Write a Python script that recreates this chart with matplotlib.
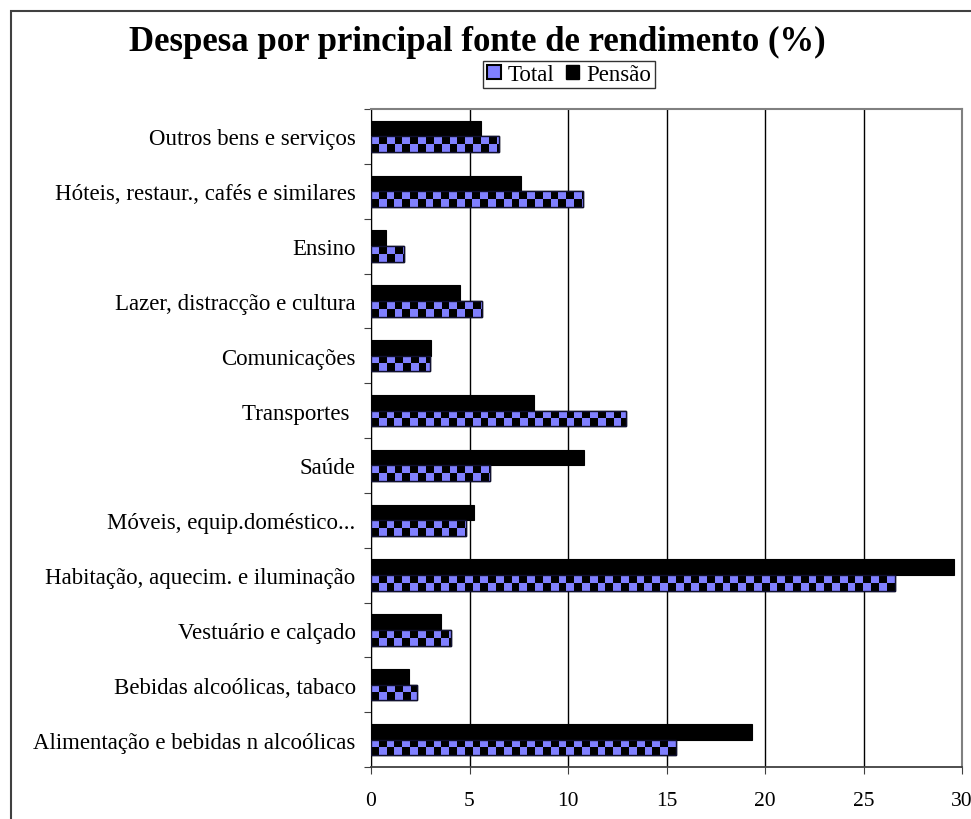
import numpy as np
import matplotlib
matplotlib.use("Agg")
import matplotlib.pyplot as plt
from matplotlib.colors import ListedColormap
from matplotlib.patches import Rectangle, Patch

# categories listed bottom -> top
categories = [
    "Alimentação e bebidas n alcoólicas",
    "Bebidas alcoólicas, tabaco",
    "Vestuário e calçado",
    "Habitação, aquecim. e iluminação",
    "Móveis, equip.doméstico...",
    "Saúde",
    "Transportes ",
    "Comunicações",
    "Lazer, distracção e cultura",
    "Ensino",
    "Hóteis, restaur., cafés e similares",
    "Outros bens e serviços",
]
total = [15.5, 2.35, 4.05, 26.6, 4.8, 6.05, 12.95, 3.0, 5.65, 1.7, 10.75, 6.5]
pensao = [19.35, 1.95, 3.55, 29.6, 5.25, 10.8, 8.25, 3.05, 4.5, 0.75, 7.6, 5.6]
xticks = [0, 5, 10, 15, 20, 25, 30]

BLUE = "#8080FF"
plt.rcParams["font.family"] = ["Liberation Serif", "DejaVu Serif"]

fig = plt.figure(figsize=(9.71, 8.2), dpi=100)
ax = fig.add_axes([371 / 971, 1 - 768 / 820, (962 - 371) / 971, (768 - 110) / 820])

y = np.arange(len(categories))
h = 0.285
ax.set_axisbelow(True)

ax.barh(y + h / 2, pensao, height=h, color="black", edgecolor="black", lw=0.8, zorder=3)
bars = ax.barh(y - h / 2, total, height=h, color="black", edgecolor="black", lw=1.0, zorder=3)

# checkerboard fill for the Total bars
cmap = ListedColormap(["black", BLUE])
sq = 7.8 / 19.7  # square width in data units
for b, v in zip(bars, total):
    ncol = int(np.ceil(v / sq)) + 1
    arr = np.zeros((2, ncol))
    arr[0, ::2] = 1
    arr[1, 1::2] = 1
    y0 = b.get_y()
    im = ax.imshow(arr, cmap=cmap, vmin=0, vmax=1, aspect="auto", interpolation="nearest",
                   extent=[0, ncol * sq, y0, y0 + h], zorder=3.5)
    im.set_clip_path(b)
    ax.add_patch(Rectangle((0, y0), v, h, fill=False, edgecolor="#101030", lw=1.0, zorder=4))

ax.set_xlim(0, 30)
ax.set_ylim(-0.5, len(categories) - 0.5)
ax.set_xticks(xticks)
ax.set_xticklabels([str(t) for t in xticks], fontsize=15.5)
ax.tick_params(axis="x", direction="out", length=5, pad=12, color="#404040")

ax.set_yticks(np.arange(-0.5, len(categories), 1.0))
ax.set_yticklabels([])
ax.set_yticks(y, minor=True)
ax.set_yticklabels(categories, minor=True, fontsize=16.5)
ax.tick_params(axis="y", which="major", direction="out", length=5, color="#404040")
ax.tick_params(axis="y", which="minor", length=0, pad=11)

ax.xaxis.grid(True, color="black", lw=1.0)
ax.spines["left"].set_color("black")
ax.spines["bottom"].set_color("#404040")
ax.spines["bottom"].set_linewidth(1.3)
for s in ("top", "right"):
    ax.spines[s].set_color("#808080")
    ax.spines[s].set_linewidth(1.5)

fig.text(477 / 971, 1 - 42 / 820, "Despesa por principal fonte de rendimento (%)",
         ha="center", va="center", fontsize=25, fontweight="bold")

handles = [Patch(facecolor=BLUE, edgecolor="black", lw=1.5, label="Total"),
           Patch(facecolor="black", edgecolor="black", label="Pensão")]
leg = fig.legend(handles=handles, loc="center", bbox_to_anchor=(569 / 971, 1 - 75.5 / 820),
                 ncol=2, fontsize=16.5, frameon=True, fancybox=False, edgecolor="black",
                 handlelength=0.6, handleheight=0.6, handletextpad=0.3, columnspacing=0.5,
                 borderpad=0.15, borderaxespad=0)
leg.get_frame().set_linewidth(1.0)

# outer chart border (cropped at right and bottom)
fig.add_artist(Rectangle((11 / 971, -0.1), 2, 1 - 12 / 820 + 0.1, transform=fig.transFigure,
                         fill=False, edgecolor="#404040", lw=1.5))

fig.savefig("out.png", dpi=100)
